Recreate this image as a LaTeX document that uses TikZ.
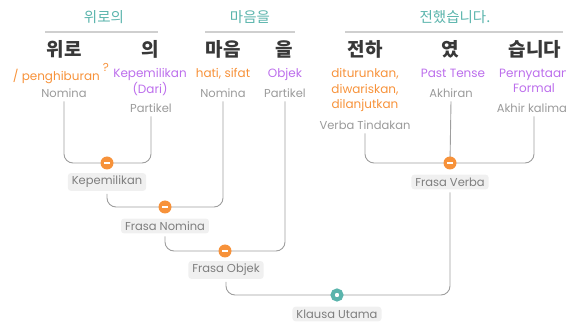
\documentclass[tikz,border=0pt]{standalone}
\usepackage{fontspec}
\setmainfont{Poppins}
\newfontfamily\kr{Noto Sans CJK KR}
\pgfdeclarelayer{bg}
\pgfsetlayers{bg,main}
\definecolor{teal0}{HTML}{5AB4AC}
\definecolor{orange0}{HTML}{F7923A}
\definecolor{purple0}{HTML}{BC6EEC}
\definecolor{gray0}{HTML}{9A9A9A}
\definecolor{dark0}{HTML}{383838}
\definecolor{line0}{HTML}{9E9E9E}
\definecolor{rule0}{HTML}{CFCFCF}
\definecolor{bg0}{HTML}{F0F0F0}
\definecolor{lbltext}{HTML}{7E7E7E}
\begin{document}
\begin{tikzpicture}[x=1pt,y=-1pt,
 hdr/.style={text=teal0, font=\kr\fontsize{14.5}{16}\selectfont, inner sep=0pt},
 word/.style={text=dark0, font=\kr\bfseries\fontsize{19}{21}\selectfont, inner sep=0pt},
 mean/.style={font=\fontsize{12}{15.5}\selectfont, align=center, anchor=north, inner sep=0pt},
 orn/.style={mean, text=orange0},
 prp/.style={mean, text=purple0},
 posl/.style={text=gray0, font=\fontsize{11.5}{13}\selectfont, inner sep=0pt, outer sep=4pt},
 lbl/.style={fill=bg0, text=lbltext, rounded corners=3pt, font=\fontsize{11.5}{13}\selectfont, inner xsep=4pt, inner ysep=3pt, outer sep=3pt},
 conn/.style={draw=line0, line width=0.9pt, rounded corners=9pt},
 rulebar/.style={draw=rule0, line width=2pt},
 odot/.style={circle, fill=orange0, minimum size=13pt, inner sep=0pt,
   path picture={\draw[white, line width=2pt] ([xshift=-3pt]path picture bounding box.center) -- ([xshift=3pt]path picture bounding box.center);}},
 tdot/.style={circle, draw=teal0, fill=white, line width=4pt, minimum size=9pt, inner sep=0pt},
]
\useasboundingbox (0,0) rectangle (566,323);
% headers
\node[hdr] (h1) at (104,17) {위로의};
\node[hdr] (h2) at (250,17) {마음을};
\node[hdr] (h3) at (455,17) {전했습니다.};
\draw[rulebar] (45,32) -- (158,32);
\draw[rulebar] (205,32) -- (295,32);
\draw[rulebar] (345,32) -- (563,32);
% words
\node[word] (w1) at (64,49) {위로};
\node[word] (w2) at (150,49) {의};
\node[word] (w3) at (223,49) {마음};
\node[word] (w4) at (284,49) {을};
\node[word] (w5) at (365,49) {전하};
\node[word] (w6) at (450,49) {였};
\node[word] (w7) at (535,49) {습니다};
% meanings
\node[orn, anchor=north east] (m1) at (100,68.5) {/ penghiburan};
\node[text=orange0, font=\fontsize{11.5}{12}\selectfont, inner sep=0pt] (q1) at (106,67) {?};
\node[prp] (m2) at (150,68.5) {Kepemilikan\\(Dari)};
\node[orn] (m3) at (223,68.5) {hati, sifat};
\node[prp] (m4) at (285,68.5) {Objek};
\node[orn] (m5) at (365,68.5) {diturunkan,\\diwariskan,\\dilanjutkan};
\node[prp] (m6) at (453,68.5) {Past Tense};
\node[prp] (m7) at (534,68.5) {Pernyataan\\Formal};
% parts of speech
\node[posl] (p1) at (64,93) {Nomina};
\node[posl] (p2) at (151,108) {Partikel};
\node[posl] (p3) at (223,93) {Nomina};
\node[posl] (p4) at (285,93) {Partikel};
\node[posl] (p5) at (365,125) {Verba Tindakan};
\node[posl] (p6) at (451,93) {Akhiran};
\node[posl] (p7) at (534,108) {Akhir kalimat};
% junctions
\node[odot] (j1) at (107,163) {};
\node[odot] (j2) at (165,207) {};
\node[odot] (j3) at (225,251) {};
\node[tdot] (j4) at (337,295) {};
\node[odot] (jv) at (450,163) {};
% phrase labels
\node[lbl] (kep) at (107,182) {Kepemilikan};
\node[lbl] (fnom) at (165,226) {Frasa Nomina};
\node[lbl] (fobj) at (226,270) {Frasa Objek};
\node[lbl] (klaus) at (337,314) {Klausa Utama};
\node[lbl] (fverb) at (450,182) {Frasa Verba};
% connectors
\begin{pgfonlayer}{bg}
\draw[conn] (p1.south) |- (j1.center) -| (p2.south);
\draw[conn] (kep.south) |- (j2.center) -| (p3.south);
\draw[conn] (fnom.south) |- (j3.center) -| (p4.south);
\draw[conn] (fobj.south) |- (j4.center) -| (fverb.south);
\draw[conn] (p5.south) |- (jv.center) -| (p7.south);
\draw[conn] (p6.south) -- (jv.center);
\end{pgfonlayer}
\end{tikzpicture}
\end{document}
